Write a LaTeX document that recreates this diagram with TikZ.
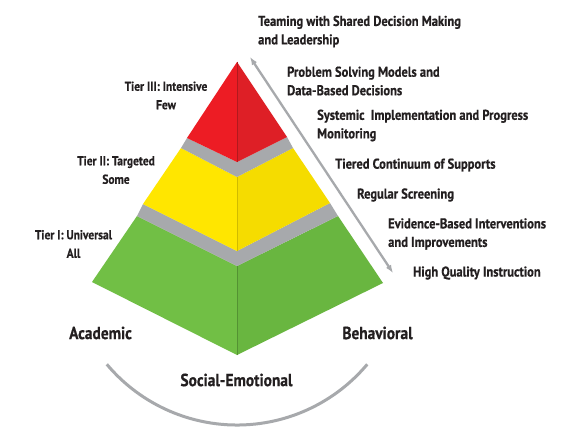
\documentclass[tikz,border=0pt]{standalone}
\usepackage{fontspec}
\setmainfont{PT Sans}[FakeStretch=0.88, BoldFeatures={FakeBold=0.5}]
\usepackage{xcolor}
\usetikzlibrary{arrows.meta,positioning}
\definecolor{redL}{HTML}{ED1C24}
\definecolor{redR}{HTML}{DE1F26}
\definecolor{yelL}{HTML}{FFE600}
\definecolor{yelR}{HTML}{F5DC00}
\definecolor{grnL}{HTML}{71BF45}
\definecolor{grnR}{HTML}{69B640}
\definecolor{slab}{HTML}{A7A9AC}
\definecolor{ink}{HTML}{231F20}

\begin{document}
\begin{tikzpicture}[
  x=1pt, y=1pt,
  item/.style={anchor=west, align=left, inner sep=0pt, text=ink, font=\fontsize{14.2}{18.5}\selectfont\bfseries},
  tierlabel/.style={align=center, inner sep=0pt, text=ink, font=\fontsize{13}{18.5}\selectfont\bfseries},
  areaname/.style={inner sep=0pt, text=ink, font=\fontsize{17.5}{20}\selectfont\bfseries},
  arrow/.style={{Latex[length=8pt,width=6pt]}-{Latex[length=8pt,width=6pt]}, line width=2.3pt, slab},
  arcline/.style={line width=3pt, slab}
]
\fill[white] (0,0) rectangle (586,440);
\useasboundingbox (0,0) rectangle (586,440);

\coordinate (g-tl) at (137,224);
\coordinate (g-tc) at (237,174);
\coordinate (g-tr) at (338,224);
\coordinate (g-bl) at (92,158);
\coordinate (g-bc) at (237,85);
\coordinate (g-br) at (383,157);
\coordinate (y-tl) at (181,292);
\coordinate (y-tc) at (237,263);
\coordinate (y-tr) at (293,292);
\coordinate (y-bl) at (143,236);
\coordinate (y-bc) at (237,189);
\coordinate (y-br) at (330,237);
\coordinate (r-top) at (237,378);
\coordinate (r-l) at (187,302);
\coordinate (r-c) at (237,278);
\coordinate (r-r) at (287,303);

\fill[grnL] (g-tl) -- (g-tc) -- (g-bc) -- (g-bl) -- cycle;
\fill[grnR] (g-tc) -- (g-tr) -- (g-br) -- (g-bc) -- cycle;
\fill[slab] (g-tl) -- (y-bl) -- (y-bc) -- (y-br) -- (g-tr) -- (g-tc) -- cycle;
\fill[yelL] (y-tl) -- (y-tc) -- (y-bc) -- (y-bl) -- cycle;
\fill[yelR] (y-tc) -- (y-tr) -- (y-br) -- (y-bc) -- cycle;
\fill[slab] (y-tl) -- (r-l) -- (r-c) -- (r-r) -- (y-tr) -- (y-tc) -- cycle;
\fill[redL] (r-top) -- (r-c) -- (r-l) -- cycle;
\fill[redR] (r-top) -- (r-r) -- (r-c) -- cycle;
\draw[grnR!80!black, very thin] (g-tc) -- (g-bc);
\draw[yelR!85!black, very thin] (y-tc) -- (y-bc);
\draw[redR!80!black, very thin] (r-top) -- (r-c);

\coordinate (up) at (250,383);
\coordinate (down) at (393,167);
\draw[arrow] (up) -- (down);

\coordinate (arcstart) at (106.8,75.7);
\draw[arcline] (arcstart) arc[start angle=220, end angle=320, radius=170];

\node[item] (team) at (258,408.5) {Teaming with Shared Decision Making\\and Leadership};
\node[item] (problem) at (287,359) {Problem Solving Models and\\Data-Based Decisions};
\node[item] (systemic) at (317,314.5) {Systemic\ \ Implementation and Progress\\Monitoring};
\node[item] (tiered) at (335,275) {Tiered Continuum of Supports};
\node[item] (screening) at (357,245) {Regular Screening};
\node[item] (evidence) at (388,206) {Evidence-Based Interventions\\and Improvements};
\node[item] (quality) at (413,167) {High Quality Instruction};

\node[tierlabel] (tier3) at (166,344.5) {Tier III: Intensive\\Few};
\node[tierlabel] (tier2) at (116,270) {Tier II: Targeted\\Some};
\node[tierlabel] (tier1) at (73.5,196) {Tier I: Universal\\All};

\node[areaname] (academic) at (100.5,107) {Academic};
\node[areaname] (behavioral) at (377.5,107) {Behavioral};
\node[areaname] (social) at (236.5,60) {Social-Emotional};
\end{tikzpicture}
\end{document}
